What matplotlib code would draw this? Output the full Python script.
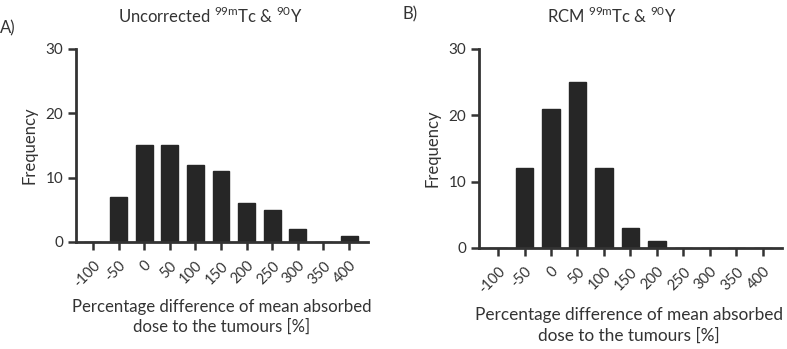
import matplotlib
matplotlib.use('Agg')
import matplotlib.pyplot as plt

plt.rcParams['font.family'] = ['Lato', 'DejaVu Sans']

bins = [-100, -50, 0, 50, 100, 150, 200, 250, 300, 350, 400]
freq_uncorr = [0, 7, 15, 15, 12, 11, 6, 5, 2, 0, 1]
freq_rcm = [0, 12, 21, 25, 12, 3, 1, 0, 0, 0, 0]
yticks = [0, 10, 20, 30]

BAR = '#262626'
INK = '#333333'


def make_panel(ax, freq, xlim):
    ax.bar(bins, freq, width=33, color=BAR, edgecolor=BAR)
    ax.set_xlim(xlim)
    ax.set_ylim(0, 30)
    ax.set_xticks(bins)
    ax.set_xticklabels([str(b) for b in bins], rotation=45, ha='right',
                       rotation_mode='anchor', fontsize=10.5, color=INK)
    ax.set_yticks(yticks)
    ax.set_yticklabels([str(t) for t in yticks], fontsize=11, color=INK)
    ax.tick_params(axis='both', length=6, width=1.8, color=INK, pad=3)
    ax.tick_params(axis='x', pad=6)
    for s in ['top', 'right']:
        ax.spines[s].set_visible(False)
    for s in ['left', 'bottom']:
        ax.spines[s].set_linewidth(2)
        ax.spines[s].set_color(INK)
    ax.set_ylabel('Frequency', fontsize=12, color=INK, labelpad=6)


fig = plt.figure(figsize=(7.87, 3.49), dpi=100)
ax1 = fig.add_axes([0.0966, 0.3066, 0.371, 0.553])
ax2 = fig.add_axes([0.6086, 0.2894, 0.385, 0.5702])

make_panel(ax1, freq_uncorr, (-133, 437))
make_panel(ax2, freq_rcm, (-136, 436))

fig.text(210 / 787, 1 - 16 / 349, r'Uncorrected $^{\mathregular{99m}}$Tc & $^{\mathregular{90}}$Y',
         ha='center', va='center', fontsize=12, color=INK)
fig.text(612 / 787, 1 - 16 / 349, r'RCM $^{\mathregular{99m}}$Tc & $^{\mathregular{90}}$Y',
         ha='center', va='center', fontsize=12, color=INK)
fig.text(0 / 787, 1 - 28 / 349, 'A)', ha='left', va='center', fontsize=12, color=INK)
fig.text(403 / 787, 1 - 14 / 349, 'B)', ha='left', va='center', fontsize=12, color=INK)

fig.text(222 / 787, 1 - 317 / 349, 'Percentage difference of mean absorbed\ndose to the tumours [%]',
         ha='center', va='center', fontsize=12.1, color=INK, linespacing=1.3)
fig.text(629 / 787, 1 - 325 / 349, 'Percentage difference of mean absorbed\ndose to the tumours [%]',
         ha='center', va='center', fontsize=12.4, color=INK, linespacing=1.35)

fig.savefig('out.png', dpi=100)
